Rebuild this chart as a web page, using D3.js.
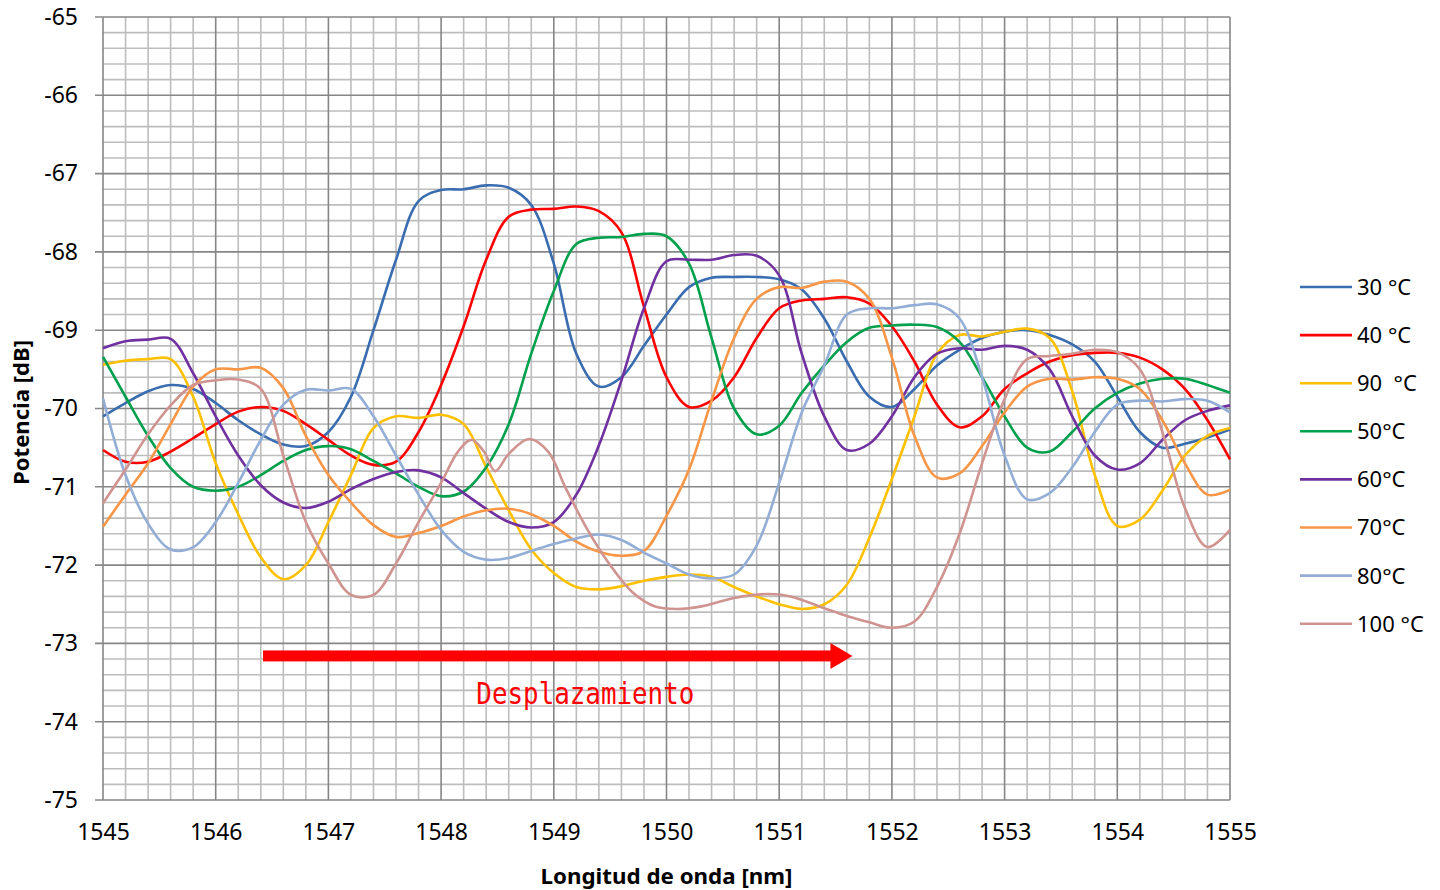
<!DOCTYPE html>
<html><head><meta charset="utf-8">
<script src="https://cdn.jsdelivr.net/npm/d3@7/dist/d3.min.js"></script>
<style>body{margin:0;background:#fff;}svg{display:block;}</style>
</head><body>
<svg id="chart" width="1440" height="890"></svg>
<script>
// ---- data ----
const xTicks = [1545,1546,1547,1548,1549,1550,1551,1552,1553,1554,1555];
const yTicks = [-65,-66,-67,-68,-69,-70,-71,-72,-73,-74,-75];
const seriesNames = ["30 °C","40 °C","90  °C","50°C","60°C","70°C","80°C","100 °C"];
const seriesColors = ["#3A6CB0","#FF0000","#FFC000","#00A04C","#7030A0","#F79646","#93AED6","#CF9490"];

const s30 = [[1545.0,-70.10],[1545.2,-69.93],[1545.4,-69.78],[1545.6,-69.70],[1545.8,-69.75],[1546.0,-69.93],[1546.2,-70.15],[1546.4,-70.33],[1546.6,-70.46],[1546.8,-70.48],[1547.0,-70.30],[1547.2,-69.85],[1547.4,-69.0],[1547.6,-68.1],[1547.8,-67.35],[1548.0,-67.21],[1548.2,-67.2],[1548.4,-67.15],[1548.6,-67.18],[1548.8,-67.4],[1549.0,-68.15],[1549.2,-69.3],[1549.4,-69.72],[1549.6,-69.6],[1549.8,-69.2],[1550.0,-68.8],[1550.2,-68.45],[1550.4,-68.33],[1550.6,-68.32],[1550.8,-68.32],[1551.0,-68.35],[1551.2,-68.48],[1551.4,-68.85],[1551.6,-69.4],[1551.8,-69.85],[1552.0,-69.98],[1552.2,-69.75],[1552.4,-69.45],[1552.6,-69.25],[1552.8,-69.1],[1553.0,-69.02],[1553.2,-69.0],[1553.4,-69.06],[1553.6,-69.18],[1553.8,-69.4],[1554.0,-69.85],[1554.2,-70.3],[1554.4,-70.5],[1554.6,-70.45],[1554.8,-70.37],[1555.0,-70.27]];
const s40 = [[1545.0,-70.53],[1545.2,-70.68],[1545.4,-70.68],[1545.6,-70.55],[1545.8,-70.38],[1546.0,-70.2],[1546.2,-70.04],[1546.4,-69.98],[1546.6,-70.03],[1546.8,-70.2],[1547.0,-70.4],[1547.2,-70.6],[1547.4,-70.72],[1547.6,-70.68],[1547.8,-70.3],[1548.0,-69.7],[1548.2,-68.95],[1548.4,-68.1],[1548.6,-67.55],[1548.8,-67.46],[1549.0,-67.45],[1549.2,-67.42],[1549.4,-67.48],[1549.6,-67.75],[1549.8,-68.7],[1550.0,-69.6],[1550.2,-69.98],[1550.4,-69.9],[1550.6,-69.6],[1550.8,-69.1],[1551.0,-68.72],[1551.2,-68.62],[1551.4,-68.6],[1551.6,-68.58],[1551.8,-68.66],[1552.0,-68.95],[1552.2,-69.4],[1552.4,-69.95],[1552.6,-70.24],[1552.8,-70.1],[1553.0,-69.75],[1553.2,-69.55],[1553.4,-69.4],[1553.6,-69.32],[1553.8,-69.29],[1554.0,-69.29],[1554.2,-69.35],[1554.4,-69.5],[1554.6,-69.75],[1554.8,-70.15],[1555.0,-70.65]];
const s90 = [[1545.0,-69.44],[1545.2,-69.39],[1545.4,-69.37],[1545.6,-69.37],[1545.8,-69.85],[1546.0,-70.7],[1546.2,-71.35],[1546.4,-71.9],[1546.6,-72.18],[1546.8,-72.0],[1547.0,-71.45],[1547.2,-70.85],[1547.4,-70.25],[1547.6,-70.1],[1547.8,-70.12],[1548.0,-70.08],[1548.2,-70.2],[1548.4,-70.75],[1548.6,-71.3],[1548.8,-71.8],[1549.0,-72.1],[1549.2,-72.28],[1549.4,-72.31],[1549.6,-72.27],[1549.8,-72.2],[1550.0,-72.15],[1550.2,-72.12],[1550.4,-72.15],[1550.6,-72.28],[1550.8,-72.4],[1551.0,-72.5],[1551.2,-72.56],[1551.4,-72.5],[1551.6,-72.25],[1551.8,-71.65],[1552.0,-70.9],[1552.2,-70.1],[1552.4,-69.3],[1552.6,-69.06],[1552.8,-69.08],[1553.0,-69.02],[1553.2,-68.98],[1553.4,-69.1],[1553.6,-69.78],[1553.8,-70.85],[1554.0,-71.5],[1554.2,-71.42],[1554.4,-71.05],[1554.6,-70.6],[1554.8,-70.35],[1555.0,-70.25]];
const s50 = [[1545.0,-69.34],[1545.2,-69.85],[1545.4,-70.35],[1545.6,-70.76],[1545.8,-71.0],[1546.0,-71.05],[1546.2,-71.0],[1546.4,-70.85],[1546.6,-70.67],[1546.8,-70.53],[1547.0,-70.48],[1547.2,-70.52],[1547.4,-70.67],[1547.6,-70.83],[1547.8,-71.0],[1548.0,-71.12],[1548.2,-71.06],[1548.4,-70.75],[1548.6,-70.2],[1548.8,-69.3],[1549.0,-68.5],[1549.2,-67.9],[1549.4,-67.82],[1549.6,-67.81],[1549.8,-67.77],[1550.0,-67.8],[1550.2,-68.15],[1550.4,-69.1],[1550.6,-70.0],[1550.8,-70.33],[1551.0,-70.22],[1551.2,-69.8],[1551.4,-69.45],[1551.6,-69.15],[1551.8,-68.97],[1552.0,-68.94],[1552.2,-68.93],[1552.4,-68.96],[1552.6,-69.15],[1552.8,-69.6],[1553.0,-70.1],[1553.2,-70.5],[1553.4,-70.55],[1553.6,-70.3],[1553.8,-70.0],[1554.0,-69.8],[1554.2,-69.68],[1554.4,-69.62],[1554.6,-69.62],[1554.8,-69.7],[1555.0,-69.8]];
const s60 = [[1545.0,-69.23],[1545.2,-69.14],[1545.4,-69.12],[1545.6,-69.11],[1545.8,-69.55],[1546.0,-70.1],[1546.2,-70.6],[1546.4,-70.98],[1546.6,-71.2],[1546.8,-71.27],[1547.0,-71.19],[1547.2,-71.03],[1547.4,-70.9],[1547.6,-70.81],[1547.8,-70.79],[1548.0,-70.88],[1548.2,-71.08],[1548.4,-71.28],[1548.6,-71.45],[1548.8,-71.52],[1549.0,-71.45],[1549.2,-71.1],[1549.4,-70.47],[1549.6,-69.64],[1549.8,-68.72],[1550.0,-68.12],[1550.2,-68.1],[1550.4,-68.1],[1550.6,-68.04],[1550.8,-68.05],[1551.0,-68.3],[1551.2,-69.3],[1551.4,-70.1],[1551.6,-70.53],[1551.8,-70.45],[1552.0,-70.1],[1552.2,-69.6],[1552.4,-69.3],[1552.6,-69.23],[1552.8,-69.25],[1553.0,-69.2],[1553.2,-69.25],[1553.4,-69.5],[1553.6,-70.1],[1553.8,-70.6],[1554.0,-70.78],[1554.2,-70.7],[1554.4,-70.4],[1554.6,-70.15],[1554.8,-70.03],[1555.0,-69.96]];
const s70 = [[1545.0,-71.51],[1545.2,-71.1],[1545.4,-70.7],[1545.6,-70.2],[1545.8,-69.72],[1546.0,-69.5],[1546.2,-69.5],[1546.4,-69.48],[1546.6,-69.74],[1546.8,-70.35],[1547.0,-70.85],[1547.2,-71.2],[1547.4,-71.49],[1547.6,-71.64],[1547.8,-71.59],[1548.0,-71.5],[1548.2,-71.38],[1548.4,-71.3],[1548.6,-71.28],[1548.8,-71.35],[1549.0,-71.5],[1549.2,-71.7],[1549.4,-71.83],[1549.6,-71.88],[1549.8,-71.82],[1550.0,-71.37],[1550.2,-70.78],[1550.4,-69.9],[1550.6,-69.1],[1550.8,-68.6],[1551.0,-68.45],[1551.2,-68.46],[1551.4,-68.38],[1551.6,-68.38],[1551.8,-68.6],[1552.0,-69.35],[1552.2,-70.35],[1552.4,-70.88],[1552.6,-70.83],[1552.8,-70.48],[1553.0,-70.05],[1553.2,-69.72],[1553.4,-69.62],[1553.6,-69.63],[1553.8,-69.6],[1554.0,-69.62],[1554.2,-69.75],[1554.4,-70.15],[1554.6,-70.7],[1554.8,-71.1],[1555.0,-71.04]];
const s80 = [[1545.0,-69.87],[1545.2,-70.85],[1545.4,-71.47],[1545.6,-71.8],[1545.8,-71.77],[1546.0,-71.45],[1546.2,-70.95],[1546.4,-70.4],[1546.6,-69.95],[1546.8,-69.76],[1547.0,-69.77],[1547.2,-69.75],[1547.4,-70.1],[1547.6,-70.6],[1547.8,-71.1],[1548.0,-71.55],[1548.2,-71.83],[1548.4,-71.93],[1548.6,-71.91],[1548.8,-71.82],[1549.0,-71.73],[1549.2,-71.66],[1549.4,-71.61],[1549.6,-71.68],[1549.8,-71.84],[1550.0,-71.98],[1550.2,-72.12],[1550.4,-72.17],[1550.6,-72.12],[1550.8,-71.75],[1551.0,-70.95],[1551.2,-70.05],[1551.4,-69.45],[1551.6,-68.8],[1551.8,-68.72],[1552.0,-68.72],[1552.2,-68.68],[1552.4,-68.67],[1552.6,-68.85],[1552.8,-69.6],[1553.0,-70.6],[1553.2,-71.16],[1553.4,-71.08],[1553.6,-70.75],[1553.8,-70.3],[1554.0,-69.95],[1554.2,-69.9],[1554.4,-69.91],[1554.6,-69.88],[1554.8,-69.9],[1555.0,-70.05]];
const s100 = [[1545.0,-71.21],[1545.2,-70.78],[1545.4,-70.33],[1545.6,-69.96],[1545.8,-69.7],[1546.0,-69.64],[1546.2,-69.63],[1546.4,-69.75],[1546.6,-70.6],[1546.8,-71.45],[1547.0,-71.98],[1547.2,-72.38],[1547.4,-72.38],[1547.6,-71.98],[1547.8,-71.45],[1548.0,-70.95],[1548.15,-70.55],[1548.27,-70.4],[1548.38,-70.55],[1548.48,-70.8],[1548.6,-70.58],[1548.78,-70.39],[1548.95,-70.55],[1549.1,-71.0],[1549.3,-71.55],[1549.5,-72.0],[1549.7,-72.35],[1549.9,-72.53],[1550.1,-72.56],[1550.3,-72.53],[1550.6,-72.42],[1550.9,-72.37],[1551.1,-72.4],[1551.4,-72.55],[1551.6,-72.65],[1551.8,-72.73],[1552.0,-72.8],[1552.2,-72.72],[1552.4,-72.28],[1552.6,-71.6],[1552.8,-70.7],[1553.0,-69.88],[1553.2,-69.37],[1553.4,-69.33],[1553.6,-69.3],[1553.8,-69.25],[1554.0,-69.28],[1554.2,-69.5],[1554.4,-70.3],[1554.6,-71.27],[1554.8,-71.77],[1555.0,-71.55]];
const seriesData = [s30,s40,s90,s50,s60,s70,s80,s100];

// annotation (data coordinates)
const arrowFrom = [1546.42,-73.16];
const arrowTo = [1551.65,-73.16];
const annotationText = "Desplazamiento";
const annotationPos = [1549.28,-73.64];
const xTitle = "Longitud de onda [nm]";
const yTitle = "Potencia [dB]";

// ---- drawing ----
const svg = d3.select("#chart");
const L=103, R=1230, T=17, B=800;
const x = d3.scaleLinear().domain([1545,1555]).range([L,R]);
const y = d3.scaleLinear().domain([-75,-65]).range([B,T]);

const grid = svg.append("g");
const minorX = d3.range(1545,1555.001,0.2).filter(v=>Math.abs(v-Math.round(v))>1e-6);
const minorY = d3.range(-75,-64.999,0.2).filter(v=>Math.abs(v-Math.round(v))>1e-6);
grid.selectAll(".mx").data(minorX).enter().append("line")
  .attr("x1",d=>x(d)).attr("x2",d=>x(d)).attr("y1",T).attr("y2",B)
  .attr("stroke","#bdbdbd").attr("stroke-width",1.6);
grid.selectAll(".my").data(minorY).enter().append("line")
  .attr("y1",d=>y(d)).attr("y2",d=>y(d)).attr("x1",L).attr("x2",R)
  .attr("stroke","#bdbdbd").attr("stroke-width",1.6);
grid.selectAll(".Mx").data(xTicks).enter().append("line")
  .attr("x1",d=>x(d)).attr("x2",d=>x(d)).attr("y1",T).attr("y2",B)
  .attr("stroke","#868686").attr("stroke-width",1.6);
grid.selectAll(".My").data(yTicks).enter().append("line")
  .attr("y1",d=>y(d)).attr("y2",d=>y(d)).attr("x1",L-8).attr("x2",R)
  .attr("stroke","#868686").attr("stroke-width",1.6);

// axes labels via d3 axes
const yAxis = svg.append("g").attr("transform",`translate(${L-8},0)`)
  .call(d3.axisLeft(y).tickValues(yTicks).tickSize(0).tickPadding(17).tickFormat(d3.format("d")));
yAxis.select(".domain").remove();
yAxis.selectAll("text").attr("font-family","'Noto Sans'").attr("font-size",23).attr("fill","#000").text(d=>String(d).replace("\u2212","-"));
const xAxis = svg.append("g").attr("transform",`translate(0,${B})`)
  .call(d3.axisBottom(x).tickValues(xTicks).tickSize(0).tickPadding(24).tickFormat(d3.format("d")));
xAxis.select(".domain").remove();
xAxis.selectAll("text").attr("font-family","'Noto Sans'").attr("font-size",23).attr("fill","#000");

svg.append("text").attr("x",(L+R)/2).attr("y",884).attr("text-anchor","middle")
  .attr("font-family","'Noto Sans'").attr("font-weight","bold").attr("font-size",22)
  .attr("textLength",252).attr("lengthAdjust","spacingAndGlyphs").text(xTitle);
svg.append("text").attr("transform",`translate(29,${(T+B)/2 + 4}) rotate(-90)`).attr("text-anchor","middle")
  .attr("font-family","'Noto Sans'").attr("font-weight","bold").attr("font-size",22)
  .attr("textLength",145).attr("lengthAdjust","spacingAndGlyphs").text(yTitle);

// series
const line = d3.line().x(d=>x(d[0])).y(d=>y(d[1])).curve(d3.curveCatmullRom.alpha(0.5));
const plot = svg.append("g");
seriesData.forEach((s,i)=>{
  plot.append("path").attr("d",line(s)).attr("fill","none")
    .attr("stroke",seriesColors[i]).attr("stroke-width",2.6).attr("stroke-linejoin","round");
});

// arrow annotation
const ax1=x(arrowFrom[0]), ay=y(arrowFrom[1]), ax2=x(arrowTo[0]);
svg.append("rect").attr("x",ax1).attr("y",ay-5.5).attr("width",ax2-18-ax1).attr("height",11).attr("fill","#FF0000");
svg.append("path").attr("d",`M${ax2-22},${ay-13} L${ax2},${ay} L${ax2-22},${ay+13} Z`).attr("fill","#FF0000");
svg.append("text").attr("x",x(annotationPos[0])).attr("y",y(annotationPos[1])+10).attr("text-anchor","middle")
  .attr("font-family","'DejaVu Sans Mono'").attr("font-size",30).attr("fill","#FF0000")
  .attr("textLength",218).attr("lengthAdjust","spacingAndGlyphs").text(annotationText);

// legend
const leg = svg.append("g");
seriesNames.forEach((n,i)=>{
  const ly = 287 + i*48.1;
  leg.append("line").attr("x1",1300).attr("x2",1352).attr("y1",ly).attr("y2",ly)
    .attr("stroke",seriesColors[i]).attr("stroke-width",2.6);
  leg.append("text").attr("x",1357).attr("y",ly).attr("dy","0.36em")
    .attr("font-family","'Noto Sans'").attr("font-size",22).attr("fill","#000")
    .attr("xml:space","preserve").style("white-space","pre").text(n);
});
</script>
</body></html>
